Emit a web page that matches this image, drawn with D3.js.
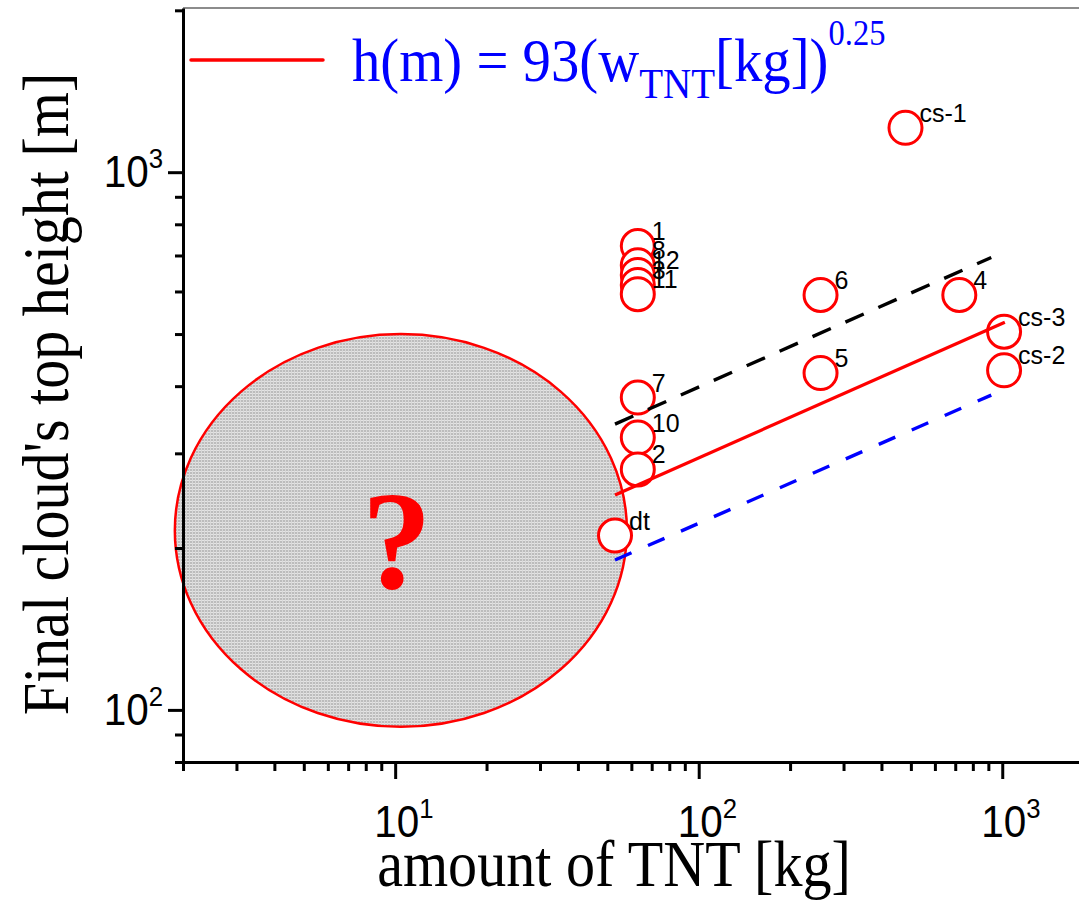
<!DOCTYPE html>
<html>
<head>
<meta charset="utf-8">
<script src="https://cdn.jsdelivr.net/npm/d3@7"></script>
<style>
	body { margin: 0; background: #fff; }
</style>
</head>
<body>
<script>
// measured points (labels, TNT in kg, cloud top in m)
let labels = ['1', '8', '12', '3', '11', '7', '10', '2', 'dt', '6', '5', '4', 'cs-1', 'cs-3', 'cs-2']
let tnt = [63, 63, 63, 63, 63, 63, 63, 63, 53, 252, 252, 722, 480, 1014, 1014]
let cloudTop = [729, 671, 644, 617, 593, 381, 321, 280, 211, 591, 423, 591, 1209, 505, 428]

// fit lines, end points [kg, m]
let fitRed = [[53, 251], [1020, 526]]
let fitBlack = [[53, 340], [920, 694]]
let fitBlue = [[53, 190], [920, 385]]

// shaded "unknown" region, extent in data units
let unknownW = [1.88, 58]
let unknownH = [93, 500]

let xMajor = [10, 100, 1000]
let xMinor = [2, 3, 4, 5, 6, 7, 8, 9, 20, 30, 40, 50, 60, 70, 80, 90, 200, 300, 400, 500, 600, 700, 800, 900]
let yMajor = [100, 1000]
let yMinor = [80, 90, 200, 300, 400, 500, 600, 700, 800, 900, 2000]
let xExp = ['1', '2', '3']
let yExp = ['2', '3']

let width = 1079, height = 900

let svg = d3.select('body').append('svg')
	.attr('width', width).attr('height', height)

let x = d3.scaleLog().domain([2, 1790]).range([183, 1079])
let y = d3.scaleLog().domain([80, 2020]).range([762, 8])

let sans = '"Liberation Sans", Arial, sans-serif'
let serif = '"Liberation Serif", "Times New Roman", serif'

// grey halftone pattern
let pat = svg.append('defs').append('pattern')
	.attr('id', 'halftone')
	.attr('width', 3).attr('height', 3)
	.attr('patternUnits', 'userSpaceOnUse')
pat.append('rect').attr('width', 3).attr('height', 3).attr('fill', '#bcbcbc')
pat.append('rect').attr('width', 3).attr('height', 1).attr('fill', '#e4e4e4')
pat.append('rect').attr('width', 1).attr('height', 3).attr('fill', '#d8d8d8')

// unknown region
let ex0 = x(unknownW[0]), ex1 = x(unknownW[1])
let ey0 = y(unknownH[1]), ey1 = y(unknownH[0])
let ecx = (ex0 + ex1) / 2, ecy = (ey0 + ey1) / 2
svg.append('ellipse')
	.attr('cx', ecx).attr('cy', ecy)
	.attr('rx', (ex1 - ex0) / 2).attr('ry', (ey1 - ey0) / 2)
	.attr('fill', 'url(#halftone)')
	.attr('stroke', '#ff0000').attr('stroke-width', 2.5)
svg.append('text')
	.attr('x', ecx - 4).attr('y', ecy + 58)
	.attr('text-anchor', 'middle')
	.style('font-family', serif)
	.style('font-weight', 'bold')
	.style('font-size', '140px')
	.attr('fill', '#ff0000')
	.text('?')

// points
let pts = labels.map((l, i) => ({label: l, w: tnt[i], h: cloudTop[i]}))
svg.append('g').selectAll('circle')
	.data(pts).enter().append('circle')
	.attr('cx', d => x(d.w)).attr('cy', d => y(d.h))
	.attr('r', 16.5)
	.attr('fill', '#fff')
	.attr('stroke', '#ff0000').attr('stroke-width', 3)

// fit lines
let line = d3.line().x(d => x(d[0])).y(d => y(d[1]))
svg.append('path').attr('d', line(fitBlack))
	.attr('fill', 'none').attr('stroke', '#000').attr('stroke-width', 3.4)
	.attr('stroke-dasharray', '20,16')
svg.append('path').attr('d', line(fitBlue))
	.attr('fill', 'none').attr('stroke', '#0000ff').attr('stroke-width', 3.4)
	.attr('stroke-dasharray', '18,18')
svg.append('path').attr('d', line(fitRed))
	.attr('fill', 'none').attr('stroke', '#ff0000').attr('stroke-width', 3.2)

// point labels
svg.append('g').selectAll('text')
	.data(pts).enter().append('text')
	.attr('x', d => x(d.w) + 14).attr('y', d => y(d.h) - 6)
	.style('font-family', sans)
	.style('font-size', '25px')
	.attr('fill', '#000')
	.text(d => d.label)

// top frame line
svg.append('line')
	.attr('x1', 183).attr('x2', width)
	.attr('y1', y.range()[1]).attr('y2', y.range()[1])
	.attr('stroke', '#666').attr('stroke-width', 1.5)

// axes
let xAxis = svg.append('g')
	.attr('transform', `translate(0,${y.range()[0]})`)
	.call(d3.axisBottom(x).tickValues(xMajor.concat(xMinor)).tickFormat('').tickSizeOuter(0))
xAxis.selectAll('.tick line')
	.attr('y2', d => xMajor.includes(d) ? 17 : 9)
	.attr('stroke-width', 3)
xAxis.select('.domain').attr('stroke-width', 3)

let yAxis = svg.append('g')
	.attr('transform', `translate(${x.range()[0]},0)`)
	.call(d3.axisLeft(y).tickValues(yMajor.concat(yMinor)).tickFormat('').tickSizeOuter(0))
yAxis.selectAll('.tick line')
	.attr('x2', d => yMajor.includes(d) ? -15 : -8)
	.attr('stroke-width', 3)
yAxis.select('.domain').attr('stroke-width', 3)

// tick labels (fonts in the figure are a bit condensed)
xMajor.forEach((v, i) => {
	let t = svg.append('text')
		.attr('transform', `translate(${x(v) - 21},837) scale(0.92,1)`)
		.style('font-family', sans).style('font-size', '44px')
	t.append('tspan').text('10')
	t.append('tspan').attr('dy', -19).style('font-size', '28px').text(xExp[i])
})
yMajor.forEach((v, i) => {
	let t = svg.append('text')
		.attr('transform', `translate(163,${y(v) + 15}) scale(0.92,1)`)
		.attr('text-anchor', 'end')
		.style('font-family', sans).style('font-size', '44px')
	t.append('tspan').text('10')
	t.append('tspan').attr('dy', -19).style('font-size', '28px').text(yExp[i])
})

// axis titles
svg.append('text')
	.attr('transform', 'translate(614,886) scale(0.88,1)')
	.attr('text-anchor', 'middle')
	.style('font-family', serif).style('font-size', '66px')
	.text('amount of TNT [kg]')
svg.append('text')
	.attr('transform', 'translate(68,394) rotate(-90) scale(0.88,1)')
	.attr('text-anchor', 'middle')
	.style('font-family', serif).style('font-size', '66px')
	.text("Final cloud's top height [m]")

// legend
svg.append('line')
	.attr('x1', 191).attr('x2', 323).attr('y1', 60).attr('y2', 60)
	.attr('stroke', '#ff0000').attr('stroke-width', 3.5).attr('stroke-linecap', 'round')
let lg = svg.append('text')
	.attr('transform', 'translate(352,81) scale(0.93,1)')
	.style('font-family', serif).style('font-size', '61px')
	.attr('fill', '#0000ff')
lg.append('tspan').text('h(m) = 93(w')
lg.append('tspan').attr('dy', 17).style('font-size', '42px').text('TNT')
lg.append('tspan').attr('dy', -17).text('[kg])')
lg.append('tspan').attr('dy', -36).style('font-size', '35px').text('0.25')
</script>
</body>
</html>
